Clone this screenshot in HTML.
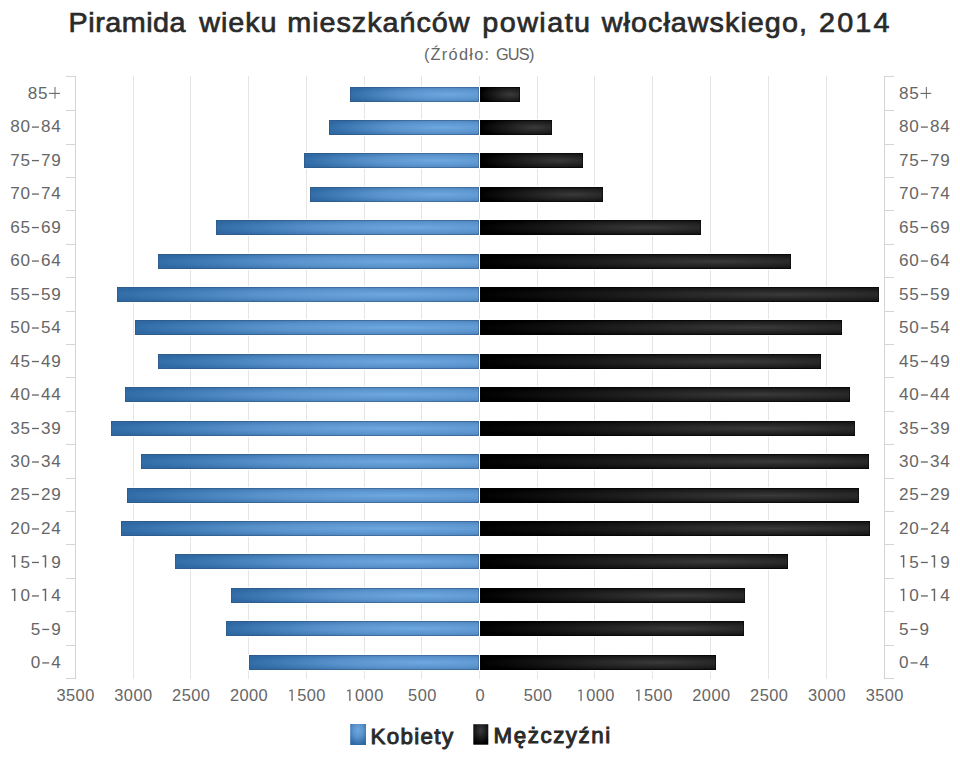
<!DOCTYPE html><html><head><meta charset="utf-8"><style>html,body{margin:0;padding:0;background:#fff;width:960px;height:768px;overflow:hidden}svg{display:block}text{font-family:"Liberation Sans",sans-serif}</style></head><body>
<svg width="960" height="768" viewBox="0 0 960 768">
<defs>
<radialGradient id="gb" cx="0.76" cy="0.5" r="1" gradientTransform="translate(0.76 0.5) scale(0.8 0.75) translate(-0.76 -0.5)"><stop offset="0" stop-color="#6ea8e1"/><stop offset="0.47" stop-color="#5a93cc"/><stop offset="0.91" stop-color="#3570aa"/><stop offset="1" stop-color="#2e69a3"/></radialGradient>
<radialGradient id="gk" cx="0.76" cy="0.5" r="1" gradientTransform="translate(0.76 0.5) scale(0.77 0.75) translate(-0.76 -0.5)"><stop offset="0" stop-color="#3a3a3a"/><stop offset="1" stop-color="#000"/></radialGradient>
<radialGradient id="lgb" cx="0.5" cy="0.3" r="0.7"><stop offset="0" stop-color="#6ea8e1"/><stop offset="0.47" stop-color="#5a93cc"/><stop offset="0.91" stop-color="#3570aa"/><stop offset="1" stop-color="#2e69a3"/></radialGradient>
<radialGradient id="lgk" cx="0.5" cy="0.3" r="0.7"><stop offset="0" stop-color="#3a3a3a"/><stop offset="1" stop-color="#000"/></radialGradient>
</defs>
<rect x="133" y="76" width="1" height="603" fill="#e5e5e5"/>
<rect x="190" y="76" width="1" height="603" fill="#e5e5e5"/>
<rect x="248" y="76" width="1" height="603" fill="#e5e5e5"/>
<rect x="306" y="76" width="1" height="603" fill="#e5e5e5"/>
<rect x="364" y="76" width="1" height="603" fill="#e5e5e5"/>
<rect x="421" y="76" width="1" height="603" fill="#e5e5e5"/>
<rect x="479" y="76" width="1" height="603" fill="#e5e5e5"/>
<rect x="537" y="76" width="1" height="603" fill="#e5e5e5"/>
<rect x="594" y="76" width="1" height="603" fill="#e5e5e5"/>
<rect x="652" y="76" width="1" height="603" fill="#e5e5e5"/>
<rect x="710" y="76" width="1" height="603" fill="#e5e5e5"/>
<rect x="768" y="76" width="1" height="603" fill="#e5e5e5"/>
<rect x="826" y="76" width="1" height="603" fill="#e5e5e5"/>
<rect x="75" y="76" width="1" height="603" fill="#d4d4d4"/>
<rect x="66" y="76" width="9" height="1" fill="#d4d4d4"/>
<rect x="66" y="110" width="9" height="1" fill="#d4d4d4"/>
<rect x="66" y="144" width="9" height="1" fill="#d4d4d4"/>
<rect x="66" y="177" width="9" height="1" fill="#d4d4d4"/>
<rect x="66" y="210" width="9" height="1" fill="#d4d4d4"/>
<rect x="66" y="244" width="9" height="1" fill="#d4d4d4"/>
<rect x="66" y="277" width="9" height="1" fill="#d4d4d4"/>
<rect x="66" y="311" width="9" height="1" fill="#d4d4d4"/>
<rect x="66" y="344" width="9" height="1" fill="#d4d4d4"/>
<rect x="66" y="377" width="9" height="1" fill="#d4d4d4"/>
<rect x="66" y="411" width="9" height="1" fill="#d4d4d4"/>
<rect x="66" y="444" width="9" height="1" fill="#d4d4d4"/>
<rect x="66" y="478" width="9" height="1" fill="#d4d4d4"/>
<rect x="66" y="511" width="9" height="1" fill="#d4d4d4"/>
<rect x="66" y="544" width="9" height="1" fill="#d4d4d4"/>
<rect x="66" y="578" width="9" height="1" fill="#d4d4d4"/>
<rect x="66" y="611" width="9" height="1" fill="#d4d4d4"/>
<rect x="66" y="645" width="9" height="1" fill="#d4d4d4"/>
<rect x="66" y="678" width="9" height="1" fill="#d4d4d4"/>
<rect x="884" y="76" width="1" height="603" fill="#d4d4d4"/>
<rect x="885" y="76" width="9" height="1" fill="#d4d4d4"/>
<rect x="885" y="110" width="9" height="1" fill="#d4d4d4"/>
<rect x="885" y="144" width="9" height="1" fill="#d4d4d4"/>
<rect x="885" y="177" width="9" height="1" fill="#d4d4d4"/>
<rect x="885" y="210" width="9" height="1" fill="#d4d4d4"/>
<rect x="885" y="244" width="9" height="1" fill="#d4d4d4"/>
<rect x="885" y="277" width="9" height="1" fill="#d4d4d4"/>
<rect x="885" y="311" width="9" height="1" fill="#d4d4d4"/>
<rect x="885" y="344" width="9" height="1" fill="#d4d4d4"/>
<rect x="885" y="377" width="9" height="1" fill="#d4d4d4"/>
<rect x="885" y="411" width="9" height="1" fill="#d4d4d4"/>
<rect x="885" y="444" width="9" height="1" fill="#d4d4d4"/>
<rect x="885" y="478" width="9" height="1" fill="#d4d4d4"/>
<rect x="885" y="511" width="9" height="1" fill="#d4d4d4"/>
<rect x="885" y="544" width="9" height="1" fill="#d4d4d4"/>
<rect x="885" y="578" width="9" height="1" fill="#d4d4d4"/>
<rect x="885" y="611" width="9" height="1" fill="#d4d4d4"/>
<rect x="885" y="645" width="9" height="1" fill="#d4d4d4"/>
<rect x="885" y="678" width="9" height="1" fill="#d4d4d4"/>
<rect x="349" y="86" width="131" height="17" fill="#fff"/>
<rect x="350" y="87" width="129" height="15" fill="url(#gb)"/>
<rect x="350.5" y="87.5" width="128" height="14" fill="none" stroke="rgba(50,70,100,0.35)" stroke-width="1"/>
<rect x="479" y="86" width="42" height="17" fill="#fff"/>
<rect x="480" y="87" width="40" height="15" fill="url(#gk)"/>
<rect x="480.5" y="87.5" width="39" height="14" fill="none" stroke="rgba(0,0,0,0.5)" stroke-width="1"/>
<rect x="328" y="119" width="152" height="17" fill="#fff"/>
<rect x="329" y="120" width="150" height="15" fill="url(#gb)"/>
<rect x="329.5" y="120.5" width="149" height="14" fill="none" stroke="rgba(50,70,100,0.35)" stroke-width="1"/>
<rect x="479" y="119" width="74" height="17" fill="#fff"/>
<rect x="480" y="120" width="72" height="15" fill="url(#gk)"/>
<rect x="480.5" y="120.5" width="71" height="14" fill="none" stroke="rgba(0,0,0,0.5)" stroke-width="1"/>
<rect x="303" y="152" width="177" height="17" fill="#fff"/>
<rect x="304" y="153" width="175" height="15" fill="url(#gb)"/>
<rect x="304.5" y="153.5" width="174" height="14" fill="none" stroke="rgba(50,70,100,0.35)" stroke-width="1"/>
<rect x="479" y="152" width="105" height="17" fill="#fff"/>
<rect x="480" y="153" width="103" height="15" fill="url(#gk)"/>
<rect x="480.5" y="153.5" width="102" height="14" fill="none" stroke="rgba(0,0,0,0.5)" stroke-width="1"/>
<rect x="309" y="186" width="171" height="17" fill="#fff"/>
<rect x="310" y="187" width="169" height="15" fill="url(#gb)"/>
<rect x="310.5" y="187.5" width="168" height="14" fill="none" stroke="rgba(50,70,100,0.35)" stroke-width="1"/>
<rect x="479" y="186" width="125" height="17" fill="#fff"/>
<rect x="480" y="187" width="123" height="15" fill="url(#gk)"/>
<rect x="480.5" y="187.5" width="122" height="14" fill="none" stroke="rgba(0,0,0,0.5)" stroke-width="1"/>
<rect x="215" y="219" width="265" height="17" fill="#fff"/>
<rect x="216" y="220" width="263" height="15" fill="url(#gb)"/>
<rect x="216.5" y="220.5" width="262" height="14" fill="none" stroke="rgba(50,70,100,0.35)" stroke-width="1"/>
<rect x="479" y="219" width="223" height="17" fill="#fff"/>
<rect x="480" y="220" width="221" height="15" fill="url(#gk)"/>
<rect x="480.5" y="220.5" width="220" height="14" fill="none" stroke="rgba(0,0,0,0.5)" stroke-width="1"/>
<rect x="157" y="253" width="323" height="17" fill="#fff"/>
<rect x="158" y="254" width="321" height="15" fill="url(#gb)"/>
<rect x="158.5" y="254.5" width="320" height="14" fill="none" stroke="rgba(50,70,100,0.35)" stroke-width="1"/>
<rect x="479" y="253" width="313" height="17" fill="#fff"/>
<rect x="480" y="254" width="311" height="15" fill="url(#gk)"/>
<rect x="480.5" y="254.5" width="310" height="14" fill="none" stroke="rgba(0,0,0,0.5)" stroke-width="1"/>
<rect x="116" y="286" width="364" height="17" fill="#fff"/>
<rect x="117" y="287" width="362" height="15" fill="url(#gb)"/>
<rect x="117.5" y="287.5" width="361" height="14" fill="none" stroke="rgba(50,70,100,0.35)" stroke-width="1"/>
<rect x="479" y="286" width="401" height="17" fill="#fff"/>
<rect x="480" y="287" width="399" height="15" fill="url(#gk)"/>
<rect x="480.5" y="287.5" width="398" height="14" fill="none" stroke="rgba(0,0,0,0.5)" stroke-width="1"/>
<rect x="134" y="319" width="346" height="17" fill="#fff"/>
<rect x="135" y="320" width="344" height="15" fill="url(#gb)"/>
<rect x="135.5" y="320.5" width="343" height="14" fill="none" stroke="rgba(50,70,100,0.35)" stroke-width="1"/>
<rect x="479" y="319" width="364" height="17" fill="#fff"/>
<rect x="480" y="320" width="362" height="15" fill="url(#gk)"/>
<rect x="480.5" y="320.5" width="361" height="14" fill="none" stroke="rgba(0,0,0,0.5)" stroke-width="1"/>
<rect x="157" y="353" width="323" height="17" fill="#fff"/>
<rect x="158" y="354" width="321" height="15" fill="url(#gb)"/>
<rect x="158.5" y="354.5" width="320" height="14" fill="none" stroke="rgba(50,70,100,0.35)" stroke-width="1"/>
<rect x="479" y="353" width="343" height="17" fill="#fff"/>
<rect x="480" y="354" width="341" height="15" fill="url(#gk)"/>
<rect x="480.5" y="354.5" width="340" height="14" fill="none" stroke="rgba(0,0,0,0.5)" stroke-width="1"/>
<rect x="124" y="386" width="356" height="17" fill="#fff"/>
<rect x="125" y="387" width="354" height="15" fill="url(#gb)"/>
<rect x="125.5" y="387.5" width="353" height="14" fill="none" stroke="rgba(50,70,100,0.35)" stroke-width="1"/>
<rect x="479" y="386" width="372" height="17" fill="#fff"/>
<rect x="480" y="387" width="370" height="15" fill="url(#gk)"/>
<rect x="480.5" y="387.5" width="369" height="14" fill="none" stroke="rgba(0,0,0,0.5)" stroke-width="1"/>
<rect x="110" y="420" width="370" height="17" fill="#fff"/>
<rect x="111" y="421" width="368" height="15" fill="url(#gb)"/>
<rect x="111.5" y="421.5" width="367" height="14" fill="none" stroke="rgba(50,70,100,0.35)" stroke-width="1"/>
<rect x="479" y="420" width="377" height="17" fill="#fff"/>
<rect x="480" y="421" width="375" height="15" fill="url(#gk)"/>
<rect x="480.5" y="421.5" width="374" height="14" fill="none" stroke="rgba(0,0,0,0.5)" stroke-width="1"/>
<rect x="140" y="453" width="340" height="17" fill="#fff"/>
<rect x="141" y="454" width="338" height="15" fill="url(#gb)"/>
<rect x="141.5" y="454.5" width="337" height="14" fill="none" stroke="rgba(50,70,100,0.35)" stroke-width="1"/>
<rect x="479" y="453" width="391" height="17" fill="#fff"/>
<rect x="480" y="454" width="389" height="15" fill="url(#gk)"/>
<rect x="480.5" y="454.5" width="388" height="14" fill="none" stroke="rgba(0,0,0,0.5)" stroke-width="1"/>
<rect x="126" y="487" width="354" height="17" fill="#fff"/>
<rect x="127" y="488" width="352" height="15" fill="url(#gb)"/>
<rect x="127.5" y="488.5" width="351" height="14" fill="none" stroke="rgba(50,70,100,0.35)" stroke-width="1"/>
<rect x="479" y="487" width="381" height="17" fill="#fff"/>
<rect x="480" y="488" width="379" height="15" fill="url(#gk)"/>
<rect x="480.5" y="488.5" width="378" height="14" fill="none" stroke="rgba(0,0,0,0.5)" stroke-width="1"/>
<rect x="120" y="520" width="360" height="17" fill="#fff"/>
<rect x="121" y="521" width="358" height="15" fill="url(#gb)"/>
<rect x="121.5" y="521.5" width="357" height="14" fill="none" stroke="rgba(50,70,100,0.35)" stroke-width="1"/>
<rect x="479" y="520" width="392" height="17" fill="#fff"/>
<rect x="480" y="521" width="390" height="15" fill="url(#gk)"/>
<rect x="480.5" y="521.5" width="389" height="14" fill="none" stroke="rgba(0,0,0,0.5)" stroke-width="1"/>
<rect x="174" y="553" width="306" height="17" fill="#fff"/>
<rect x="175" y="554" width="304" height="15" fill="url(#gb)"/>
<rect x="175.5" y="554.5" width="303" height="14" fill="none" stroke="rgba(50,70,100,0.35)" stroke-width="1"/>
<rect x="479" y="553" width="310" height="17" fill="#fff"/>
<rect x="480" y="554" width="308" height="15" fill="url(#gk)"/>
<rect x="480.5" y="554.5" width="307" height="14" fill="none" stroke="rgba(0,0,0,0.5)" stroke-width="1"/>
<rect x="230" y="587" width="250" height="17" fill="#fff"/>
<rect x="231" y="588" width="248" height="15" fill="url(#gb)"/>
<rect x="231.5" y="588.5" width="247" height="14" fill="none" stroke="rgba(50,70,100,0.35)" stroke-width="1"/>
<rect x="479" y="587" width="267" height="17" fill="#fff"/>
<rect x="480" y="588" width="265" height="15" fill="url(#gk)"/>
<rect x="480.5" y="588.5" width="264" height="14" fill="none" stroke="rgba(0,0,0,0.5)" stroke-width="1"/>
<rect x="225" y="620" width="255" height="17" fill="#fff"/>
<rect x="226" y="621" width="253" height="15" fill="url(#gb)"/>
<rect x="226.5" y="621.5" width="252" height="14" fill="none" stroke="rgba(50,70,100,0.35)" stroke-width="1"/>
<rect x="479" y="620" width="266" height="17" fill="#fff"/>
<rect x="480" y="621" width="264" height="15" fill="url(#gk)"/>
<rect x="480.5" y="621.5" width="263" height="14" fill="none" stroke="rgba(0,0,0,0.5)" stroke-width="1"/>
<rect x="248" y="654" width="232" height="17" fill="#fff"/>
<rect x="249" y="655" width="230" height="15" fill="url(#gb)"/>
<rect x="249.5" y="655.5" width="229" height="14" fill="none" stroke="rgba(50,70,100,0.35)" stroke-width="1"/>
<rect x="479" y="654" width="238" height="17" fill="#fff"/>
<rect x="480" y="655" width="236" height="15" fill="url(#gk)"/>
<rect x="480.5" y="655.5" width="235" height="14" fill="none" stroke="rgba(0,0,0,0.5)" stroke-width="1"/>
<text transform="translate(68.58 32.20) scale(1.0200 1)" font-size="28.2" font-weight="normal" fill="#2a2a2a" letter-spacing="0.500" stroke="#2a2a2a" stroke-width="0.7">Piramida</text>
<text transform="translate(199.23 32.20) scale(1.0200 1)" font-size="28.2" font-weight="normal" fill="#2a2a2a" letter-spacing="0.946" stroke="#2a2a2a" stroke-width="0.7">wieku</text>
<text transform="translate(287.31 32.20) scale(1.0200 1)" font-size="28.2" font-weight="normal" fill="#2a2a2a" letter-spacing="0.944" stroke="#2a2a2a" stroke-width="0.7">mieszkańców</text>
<text transform="translate(482.31 32.20) scale(1.0200 1)" font-size="28.2" font-weight="normal" fill="#2a2a2a" letter-spacing="1.412" stroke="#2a2a2a" stroke-width="0.7">powiatu</text>
<text transform="translate(601.73 32.20) scale(1.0200 1)" font-size="28.2" font-weight="normal" fill="#2a2a2a" letter-spacing="1.013" stroke="#2a2a2a" stroke-width="0.7">włocławskiego,</text>
<text transform="translate(819.04 32.20) scale(1.0200 1)" font-size="28.2" font-weight="normal" fill="#2a2a2a" letter-spacing="2.101" stroke="#2a2a2a" stroke-width="0.7">2014</text>
<text transform="translate(423.91 59.80) scale(1.0200 1)" font-size="16" font-weight="normal" fill="#666" letter-spacing="1.249">(Źródło:</text>
<text transform="translate(495.88 59.80) scale(1.0200 1)" font-size="16" font-weight="normal" fill="#666" letter-spacing="-0.750">GUS)</text>
<text transform="translate(370.51 743.60) scale(1.0400 1)" font-size="21.5" font-weight="normal" fill="#2a2a2a" letter-spacing="1.284" stroke="#2a2a2a" stroke-width="0.95">Kobiety</text>
<text transform="translate(493.51 743.40) scale(1.0400 1)" font-size="21.5" font-weight="normal" fill="#2a2a2a" letter-spacing="1.498" stroke="#2a2a2a" stroke-width="0.95">Mężczyźni</text>
<text transform="translate(32.50 98.70) scale(0.99 1)" text-anchor="middle" font-size="17.3" fill="#666">8</text>
<text transform="translate(42.77 98.70) scale(0.99 1)" text-anchor="middle" font-size="17.3" fill="#666">5</text>
<text transform="translate(903.84 98.70) scale(0.99 1)" text-anchor="middle" font-size="17.3" fill="#666">8</text>
<text transform="translate(914.11 98.70) scale(0.99 1)" text-anchor="middle" font-size="17.3" fill="#666">5</text>
<text transform="translate(14.89 132.19) scale(0.99 1)" text-anchor="middle" font-size="17.3" fill="#666">8</text>
<text transform="translate(25.16 132.19) scale(0.99 1)" text-anchor="middle" font-size="17.3" fill="#666">0</text>
<text transform="translate(45.70 132.19) scale(0.99 1)" text-anchor="middle" font-size="17.3" fill="#666">8</text>
<text transform="translate(55.96 132.19) scale(0.99 1)" text-anchor="middle" font-size="17.3" fill="#666">4</text>
<text transform="translate(903.84 132.19) scale(0.99 1)" text-anchor="middle" font-size="17.3" fill="#666">8</text>
<text transform="translate(914.11 132.19) scale(0.99 1)" text-anchor="middle" font-size="17.3" fill="#666">0</text>
<text transform="translate(934.64 132.19) scale(0.99 1)" text-anchor="middle" font-size="17.3" fill="#666">8</text>
<text transform="translate(944.91 132.19) scale(0.99 1)" text-anchor="middle" font-size="17.3" fill="#666">4</text>
<text transform="translate(14.89 165.68) scale(0.99 1)" text-anchor="middle" font-size="17.3" fill="#666">7</text>
<text transform="translate(25.16 165.68) scale(0.99 1)" text-anchor="middle" font-size="17.3" fill="#666">5</text>
<text transform="translate(45.70 165.68) scale(0.99 1)" text-anchor="middle" font-size="17.3" fill="#666">7</text>
<text transform="translate(55.96 165.68) scale(0.99 1)" text-anchor="middle" font-size="17.3" fill="#666">9</text>
<text transform="translate(903.84 165.68) scale(0.99 1)" text-anchor="middle" font-size="17.3" fill="#666">7</text>
<text transform="translate(914.11 165.68) scale(0.99 1)" text-anchor="middle" font-size="17.3" fill="#666">5</text>
<text transform="translate(934.64 165.68) scale(0.99 1)" text-anchor="middle" font-size="17.3" fill="#666">7</text>
<text transform="translate(944.91 165.68) scale(0.99 1)" text-anchor="middle" font-size="17.3" fill="#666">9</text>
<text transform="translate(14.89 199.17) scale(0.99 1)" text-anchor="middle" font-size="17.3" fill="#666">7</text>
<text transform="translate(25.16 199.17) scale(0.99 1)" text-anchor="middle" font-size="17.3" fill="#666">0</text>
<text transform="translate(45.70 199.17) scale(0.99 1)" text-anchor="middle" font-size="17.3" fill="#666">7</text>
<text transform="translate(55.96 199.17) scale(0.99 1)" text-anchor="middle" font-size="17.3" fill="#666">4</text>
<text transform="translate(903.84 199.17) scale(0.99 1)" text-anchor="middle" font-size="17.3" fill="#666">7</text>
<text transform="translate(914.11 199.17) scale(0.99 1)" text-anchor="middle" font-size="17.3" fill="#666">0</text>
<text transform="translate(934.64 199.17) scale(0.99 1)" text-anchor="middle" font-size="17.3" fill="#666">7</text>
<text transform="translate(944.91 199.17) scale(0.99 1)" text-anchor="middle" font-size="17.3" fill="#666">4</text>
<text transform="translate(14.89 232.66) scale(0.99 1)" text-anchor="middle" font-size="17.3" fill="#666">6</text>
<text transform="translate(25.16 232.66) scale(0.99 1)" text-anchor="middle" font-size="17.3" fill="#666">5</text>
<text transform="translate(45.70 232.66) scale(0.99 1)" text-anchor="middle" font-size="17.3" fill="#666">6</text>
<text transform="translate(55.96 232.66) scale(0.99 1)" text-anchor="middle" font-size="17.3" fill="#666">9</text>
<text transform="translate(903.84 232.66) scale(0.99 1)" text-anchor="middle" font-size="17.3" fill="#666">6</text>
<text transform="translate(914.11 232.66) scale(0.99 1)" text-anchor="middle" font-size="17.3" fill="#666">5</text>
<text transform="translate(934.64 232.66) scale(0.99 1)" text-anchor="middle" font-size="17.3" fill="#666">6</text>
<text transform="translate(944.91 232.66) scale(0.99 1)" text-anchor="middle" font-size="17.3" fill="#666">9</text>
<text transform="translate(14.89 266.15) scale(0.99 1)" text-anchor="middle" font-size="17.3" fill="#666">6</text>
<text transform="translate(25.16 266.15) scale(0.99 1)" text-anchor="middle" font-size="17.3" fill="#666">0</text>
<text transform="translate(45.70 266.15) scale(0.99 1)" text-anchor="middle" font-size="17.3" fill="#666">6</text>
<text transform="translate(55.96 266.15) scale(0.99 1)" text-anchor="middle" font-size="17.3" fill="#666">4</text>
<text transform="translate(903.84 266.15) scale(0.99 1)" text-anchor="middle" font-size="17.3" fill="#666">6</text>
<text transform="translate(914.11 266.15) scale(0.99 1)" text-anchor="middle" font-size="17.3" fill="#666">0</text>
<text transform="translate(934.64 266.15) scale(0.99 1)" text-anchor="middle" font-size="17.3" fill="#666">6</text>
<text transform="translate(944.91 266.15) scale(0.99 1)" text-anchor="middle" font-size="17.3" fill="#666">4</text>
<text transform="translate(14.89 299.64) scale(0.99 1)" text-anchor="middle" font-size="17.3" fill="#666">5</text>
<text transform="translate(25.16 299.64) scale(0.99 1)" text-anchor="middle" font-size="17.3" fill="#666">5</text>
<text transform="translate(45.70 299.64) scale(0.99 1)" text-anchor="middle" font-size="17.3" fill="#666">5</text>
<text transform="translate(55.96 299.64) scale(0.99 1)" text-anchor="middle" font-size="17.3" fill="#666">9</text>
<text transform="translate(903.84 299.64) scale(0.99 1)" text-anchor="middle" font-size="17.3" fill="#666">5</text>
<text transform="translate(914.11 299.64) scale(0.99 1)" text-anchor="middle" font-size="17.3" fill="#666">5</text>
<text transform="translate(934.64 299.64) scale(0.99 1)" text-anchor="middle" font-size="17.3" fill="#666">5</text>
<text transform="translate(944.91 299.64) scale(0.99 1)" text-anchor="middle" font-size="17.3" fill="#666">9</text>
<text transform="translate(14.89 333.13) scale(0.99 1)" text-anchor="middle" font-size="17.3" fill="#666">5</text>
<text transform="translate(25.16 333.13) scale(0.99 1)" text-anchor="middle" font-size="17.3" fill="#666">0</text>
<text transform="translate(45.70 333.13) scale(0.99 1)" text-anchor="middle" font-size="17.3" fill="#666">5</text>
<text transform="translate(55.96 333.13) scale(0.99 1)" text-anchor="middle" font-size="17.3" fill="#666">4</text>
<text transform="translate(903.84 333.13) scale(0.99 1)" text-anchor="middle" font-size="17.3" fill="#666">5</text>
<text transform="translate(914.11 333.13) scale(0.99 1)" text-anchor="middle" font-size="17.3" fill="#666">0</text>
<text transform="translate(934.64 333.13) scale(0.99 1)" text-anchor="middle" font-size="17.3" fill="#666">5</text>
<text transform="translate(944.91 333.13) scale(0.99 1)" text-anchor="middle" font-size="17.3" fill="#666">4</text>
<text transform="translate(14.89 366.62) scale(0.99 1)" text-anchor="middle" font-size="17.3" fill="#666">4</text>
<text transform="translate(25.16 366.62) scale(0.99 1)" text-anchor="middle" font-size="17.3" fill="#666">5</text>
<text transform="translate(45.70 366.62) scale(0.99 1)" text-anchor="middle" font-size="17.3" fill="#666">4</text>
<text transform="translate(55.96 366.62) scale(0.99 1)" text-anchor="middle" font-size="17.3" fill="#666">9</text>
<text transform="translate(903.84 366.62) scale(0.99 1)" text-anchor="middle" font-size="17.3" fill="#666">4</text>
<text transform="translate(914.11 366.62) scale(0.99 1)" text-anchor="middle" font-size="17.3" fill="#666">5</text>
<text transform="translate(934.64 366.62) scale(0.99 1)" text-anchor="middle" font-size="17.3" fill="#666">4</text>
<text transform="translate(944.91 366.62) scale(0.99 1)" text-anchor="middle" font-size="17.3" fill="#666">9</text>
<text transform="translate(14.89 400.11) scale(0.99 1)" text-anchor="middle" font-size="17.3" fill="#666">4</text>
<text transform="translate(25.16 400.11) scale(0.99 1)" text-anchor="middle" font-size="17.3" fill="#666">0</text>
<text transform="translate(45.70 400.11) scale(0.99 1)" text-anchor="middle" font-size="17.3" fill="#666">4</text>
<text transform="translate(55.96 400.11) scale(0.99 1)" text-anchor="middle" font-size="17.3" fill="#666">4</text>
<text transform="translate(903.84 400.11) scale(0.99 1)" text-anchor="middle" font-size="17.3" fill="#666">4</text>
<text transform="translate(914.11 400.11) scale(0.99 1)" text-anchor="middle" font-size="17.3" fill="#666">0</text>
<text transform="translate(934.64 400.11) scale(0.99 1)" text-anchor="middle" font-size="17.3" fill="#666">4</text>
<text transform="translate(944.91 400.11) scale(0.99 1)" text-anchor="middle" font-size="17.3" fill="#666">4</text>
<text transform="translate(14.89 433.60) scale(0.99 1)" text-anchor="middle" font-size="17.3" fill="#666">3</text>
<text transform="translate(25.16 433.60) scale(0.99 1)" text-anchor="middle" font-size="17.3" fill="#666">5</text>
<text transform="translate(45.70 433.60) scale(0.99 1)" text-anchor="middle" font-size="17.3" fill="#666">3</text>
<text transform="translate(55.96 433.60) scale(0.99 1)" text-anchor="middle" font-size="17.3" fill="#666">9</text>
<text transform="translate(903.84 433.60) scale(0.99 1)" text-anchor="middle" font-size="17.3" fill="#666">3</text>
<text transform="translate(914.11 433.60) scale(0.99 1)" text-anchor="middle" font-size="17.3" fill="#666">5</text>
<text transform="translate(934.64 433.60) scale(0.99 1)" text-anchor="middle" font-size="17.3" fill="#666">3</text>
<text transform="translate(944.91 433.60) scale(0.99 1)" text-anchor="middle" font-size="17.3" fill="#666">9</text>
<text transform="translate(14.89 467.09) scale(0.99 1)" text-anchor="middle" font-size="17.3" fill="#666">3</text>
<text transform="translate(25.16 467.09) scale(0.99 1)" text-anchor="middle" font-size="17.3" fill="#666">0</text>
<text transform="translate(45.70 467.09) scale(0.99 1)" text-anchor="middle" font-size="17.3" fill="#666">3</text>
<text transform="translate(55.96 467.09) scale(0.99 1)" text-anchor="middle" font-size="17.3" fill="#666">4</text>
<text transform="translate(903.84 467.09) scale(0.99 1)" text-anchor="middle" font-size="17.3" fill="#666">3</text>
<text transform="translate(914.11 467.09) scale(0.99 1)" text-anchor="middle" font-size="17.3" fill="#666">0</text>
<text transform="translate(934.64 467.09) scale(0.99 1)" text-anchor="middle" font-size="17.3" fill="#666">3</text>
<text transform="translate(944.91 467.09) scale(0.99 1)" text-anchor="middle" font-size="17.3" fill="#666">4</text>
<text transform="translate(14.89 499.58) scale(0.99 1)" text-anchor="middle" font-size="17.3" fill="#666">2</text>
<text transform="translate(25.16 499.58) scale(0.99 1)" text-anchor="middle" font-size="17.3" fill="#666">5</text>
<text transform="translate(45.70 499.58) scale(0.99 1)" text-anchor="middle" font-size="17.3" fill="#666">2</text>
<text transform="translate(55.96 499.58) scale(0.99 1)" text-anchor="middle" font-size="17.3" fill="#666">9</text>
<text transform="translate(903.84 499.58) scale(0.99 1)" text-anchor="middle" font-size="17.3" fill="#666">2</text>
<text transform="translate(914.11 499.58) scale(0.99 1)" text-anchor="middle" font-size="17.3" fill="#666">5</text>
<text transform="translate(934.64 499.58) scale(0.99 1)" text-anchor="middle" font-size="17.3" fill="#666">2</text>
<text transform="translate(944.91 499.58) scale(0.99 1)" text-anchor="middle" font-size="17.3" fill="#666">9</text>
<text transform="translate(14.89 534.07) scale(0.99 1)" text-anchor="middle" font-size="17.3" fill="#666">2</text>
<text transform="translate(25.16 534.07) scale(0.99 1)" text-anchor="middle" font-size="17.3" fill="#666">0</text>
<text transform="translate(45.70 534.07) scale(0.99 1)" text-anchor="middle" font-size="17.3" fill="#666">2</text>
<text transform="translate(55.96 534.07) scale(0.99 1)" text-anchor="middle" font-size="17.3" fill="#666">4</text>
<text transform="translate(903.84 534.07) scale(0.99 1)" text-anchor="middle" font-size="17.3" fill="#666">2</text>
<text transform="translate(914.11 534.07) scale(0.99 1)" text-anchor="middle" font-size="17.3" fill="#666">0</text>
<text transform="translate(934.64 534.07) scale(0.99 1)" text-anchor="middle" font-size="17.3" fill="#666">2</text>
<text transform="translate(944.91 534.07) scale(0.99 1)" text-anchor="middle" font-size="17.3" fill="#666">4</text>
<rect x="13.94" y="555.17" width="1.47" height="12.39" fill="#666"/>
<polygon points="14.24,555.17 11.69,555.87 11.69,557.35 14.24,556.73" fill="#666"/>
<text transform="translate(25.16 567.56) scale(0.99 1)" text-anchor="middle" font-size="17.3" fill="#666">5</text>
<rect x="44.75" y="555.17" width="1.47" height="12.39" fill="#666"/>
<polygon points="45.05,555.17 42.50,555.87 42.50,557.35 45.05,556.73" fill="#666"/>
<text transform="translate(55.96 567.56) scale(0.99 1)" text-anchor="middle" font-size="17.3" fill="#666">9</text>
<rect x="902.89" y="555.17" width="1.47" height="12.39" fill="#666"/>
<polygon points="903.19,555.17 900.64,555.87 900.64,557.35 903.19,556.73" fill="#666"/>
<text transform="translate(914.11 567.56) scale(0.99 1)" text-anchor="middle" font-size="17.3" fill="#666">5</text>
<rect x="933.70" y="555.17" width="1.47" height="12.39" fill="#666"/>
<polygon points="934.00,555.17 931.45,555.87 931.45,557.35 934.00,556.73" fill="#666"/>
<text transform="translate(944.91 567.56) scale(0.99 1)" text-anchor="middle" font-size="17.3" fill="#666">9</text>
<rect x="13.94" y="588.66" width="1.47" height="12.39" fill="#666"/>
<polygon points="14.24,588.66 11.69,589.36 11.69,590.84 14.24,590.22" fill="#666"/>
<text transform="translate(25.16 601.05) scale(0.99 1)" text-anchor="middle" font-size="17.3" fill="#666">0</text>
<rect x="44.75" y="588.66" width="1.47" height="12.39" fill="#666"/>
<polygon points="45.05,588.66 42.50,589.36 42.50,590.84 45.05,590.22" fill="#666"/>
<text transform="translate(55.96 601.05) scale(0.99 1)" text-anchor="middle" font-size="17.3" fill="#666">4</text>
<rect x="902.89" y="588.66" width="1.47" height="12.39" fill="#666"/>
<polygon points="903.19,588.66 900.64,589.36 900.64,590.84 903.19,590.22" fill="#666"/>
<text transform="translate(914.11 601.05) scale(0.99 1)" text-anchor="middle" font-size="17.3" fill="#666">0</text>
<rect x="933.70" y="588.66" width="1.47" height="12.39" fill="#666"/>
<polygon points="934.00,588.66 931.45,589.36 931.45,590.84 934.00,590.22" fill="#666"/>
<text transform="translate(944.91 601.05) scale(0.99 1)" text-anchor="middle" font-size="17.3" fill="#666">4</text>
<text transform="translate(35.43 634.54) scale(0.99 1)" text-anchor="middle" font-size="17.3" fill="#666">5</text>
<text transform="translate(55.96 634.54) scale(0.99 1)" text-anchor="middle" font-size="17.3" fill="#666">9</text>
<text transform="translate(903.84 634.54) scale(0.99 1)" text-anchor="middle" font-size="17.3" fill="#666">5</text>
<text transform="translate(924.38 634.54) scale(0.99 1)" text-anchor="middle" font-size="17.3" fill="#666">9</text>
<text transform="translate(35.43 668.03) scale(0.99 1)" text-anchor="middle" font-size="17.3" fill="#666">0</text>
<text transform="translate(55.96 668.03) scale(0.99 1)" text-anchor="middle" font-size="17.3" fill="#666">4</text>
<text transform="translate(903.84 668.03) scale(0.99 1)" text-anchor="middle" font-size="17.3" fill="#666">0</text>
<text transform="translate(924.38 668.03) scale(0.99 1)" text-anchor="middle" font-size="17.3" fill="#666">4</text>
<text transform="translate(61.06 700.90) scale(1.04 1)" text-anchor="middle" font-size="15.8" fill="#666">3</text>
<text transform="translate(70.62 700.90) scale(1.04 1)" text-anchor="middle" font-size="15.8" fill="#666">5</text>
<text transform="translate(80.18 700.90) scale(1.04 1)" text-anchor="middle" font-size="15.8" fill="#666">0</text>
<text transform="translate(89.74 700.90) scale(1.04 1)" text-anchor="middle" font-size="15.8" fill="#666">0</text>
<text transform="translate(118.86 700.90) scale(1.04 1)" text-anchor="middle" font-size="15.8" fill="#666">3</text>
<text transform="translate(128.42 700.90) scale(1.04 1)" text-anchor="middle" font-size="15.8" fill="#666">0</text>
<text transform="translate(137.98 700.90) scale(1.04 1)" text-anchor="middle" font-size="15.8" fill="#666">0</text>
<text transform="translate(147.54 700.90) scale(1.04 1)" text-anchor="middle" font-size="15.8" fill="#666">0</text>
<text transform="translate(176.66 700.90) scale(1.04 1)" text-anchor="middle" font-size="15.8" fill="#666">2</text>
<text transform="translate(186.22 700.90) scale(1.04 1)" text-anchor="middle" font-size="15.8" fill="#666">5</text>
<text transform="translate(195.78 700.90) scale(1.04 1)" text-anchor="middle" font-size="15.8" fill="#666">0</text>
<text transform="translate(205.34 700.90) scale(1.04 1)" text-anchor="middle" font-size="15.8" fill="#666">0</text>
<text transform="translate(234.46 700.90) scale(1.04 1)" text-anchor="middle" font-size="15.8" fill="#666">2</text>
<text transform="translate(244.02 700.90) scale(1.04 1)" text-anchor="middle" font-size="15.8" fill="#666">0</text>
<text transform="translate(253.58 700.90) scale(1.04 1)" text-anchor="middle" font-size="15.8" fill="#666">0</text>
<text transform="translate(263.14 700.90) scale(1.04 1)" text-anchor="middle" font-size="15.8" fill="#666">0</text>
<rect x="291.40" y="689.59" width="1.34" height="11.31" fill="#666"/>
<polygon points="291.70,689.59 289.34,690.23 289.34,691.58 291.70,691.01" fill="#666"/>
<text transform="translate(301.82 700.90) scale(1.04 1)" text-anchor="middle" font-size="15.8" fill="#666">5</text>
<text transform="translate(311.38 700.90) scale(1.04 1)" text-anchor="middle" font-size="15.8" fill="#666">0</text>
<text transform="translate(320.94 700.90) scale(1.04 1)" text-anchor="middle" font-size="15.8" fill="#666">0</text>
<rect x="349.20" y="689.59" width="1.34" height="11.31" fill="#666"/>
<polygon points="349.50,689.59 347.14,690.23 347.14,691.58 349.50,691.01" fill="#666"/>
<text transform="translate(359.62 700.90) scale(1.04 1)" text-anchor="middle" font-size="15.8" fill="#666">0</text>
<text transform="translate(369.18 700.90) scale(1.04 1)" text-anchor="middle" font-size="15.8" fill="#666">0</text>
<text transform="translate(378.74 700.90) scale(1.04 1)" text-anchor="middle" font-size="15.8" fill="#666">0</text>
<text transform="translate(412.64 700.90) scale(1.04 1)" text-anchor="middle" font-size="15.8" fill="#666">5</text>
<text transform="translate(422.20 700.90) scale(1.04 1)" text-anchor="middle" font-size="15.8" fill="#666">0</text>
<text transform="translate(431.76 700.90) scale(1.04 1)" text-anchor="middle" font-size="15.8" fill="#666">0</text>
<text transform="translate(480.00 700.90) scale(1.04 1)" text-anchor="middle" font-size="15.8" fill="#666">0</text>
<text transform="translate(528.24 700.90) scale(1.04 1)" text-anchor="middle" font-size="15.8" fill="#666">5</text>
<text transform="translate(537.80 700.90) scale(1.04 1)" text-anchor="middle" font-size="15.8" fill="#666">0</text>
<text transform="translate(547.36 700.90) scale(1.04 1)" text-anchor="middle" font-size="15.8" fill="#666">0</text>
<rect x="580.40" y="689.59" width="1.34" height="11.31" fill="#666"/>
<polygon points="580.70,689.59 578.34,690.23 578.34,691.58 580.70,691.01" fill="#666"/>
<text transform="translate(590.82 700.90) scale(1.04 1)" text-anchor="middle" font-size="15.8" fill="#666">0</text>
<text transform="translate(600.38 700.90) scale(1.04 1)" text-anchor="middle" font-size="15.8" fill="#666">0</text>
<text transform="translate(609.94 700.90) scale(1.04 1)" text-anchor="middle" font-size="15.8" fill="#666">0</text>
<rect x="638.20" y="689.59" width="1.34" height="11.31" fill="#666"/>
<polygon points="638.50,689.59 636.14,690.23 636.14,691.58 638.50,691.01" fill="#666"/>
<text transform="translate(648.62 700.90) scale(1.04 1)" text-anchor="middle" font-size="15.8" fill="#666">5</text>
<text transform="translate(658.18 700.90) scale(1.04 1)" text-anchor="middle" font-size="15.8" fill="#666">0</text>
<text transform="translate(667.74 700.90) scale(1.04 1)" text-anchor="middle" font-size="15.8" fill="#666">0</text>
<text transform="translate(696.86 700.90) scale(1.04 1)" text-anchor="middle" font-size="15.8" fill="#666">2</text>
<text transform="translate(706.42 700.90) scale(1.04 1)" text-anchor="middle" font-size="15.8" fill="#666">0</text>
<text transform="translate(715.98 700.90) scale(1.04 1)" text-anchor="middle" font-size="15.8" fill="#666">0</text>
<text transform="translate(725.54 700.90) scale(1.04 1)" text-anchor="middle" font-size="15.8" fill="#666">0</text>
<text transform="translate(754.66 700.90) scale(1.04 1)" text-anchor="middle" font-size="15.8" fill="#666">2</text>
<text transform="translate(764.22 700.90) scale(1.04 1)" text-anchor="middle" font-size="15.8" fill="#666">5</text>
<text transform="translate(773.78 700.90) scale(1.04 1)" text-anchor="middle" font-size="15.8" fill="#666">0</text>
<text transform="translate(783.34 700.90) scale(1.04 1)" text-anchor="middle" font-size="15.8" fill="#666">0</text>
<text transform="translate(812.46 700.90) scale(1.04 1)" text-anchor="middle" font-size="15.8" fill="#666">3</text>
<text transform="translate(822.02 700.90) scale(1.04 1)" text-anchor="middle" font-size="15.8" fill="#666">0</text>
<text transform="translate(831.58 700.90) scale(1.04 1)" text-anchor="middle" font-size="15.8" fill="#666">0</text>
<text transform="translate(841.14 700.90) scale(1.04 1)" text-anchor="middle" font-size="15.8" fill="#666">0</text>
<text transform="translate(870.26 700.90) scale(1.04 1)" text-anchor="middle" font-size="15.8" fill="#666">3</text>
<text transform="translate(879.82 700.90) scale(1.04 1)" text-anchor="middle" font-size="15.8" fill="#666">5</text>
<text transform="translate(889.38 700.90) scale(1.04 1)" text-anchor="middle" font-size="15.8" fill="#666">0</text>
<text transform="translate(898.94 700.90) scale(1.04 1)" text-anchor="middle" font-size="15.8" fill="#666">0</text>
<rect x="49.10" y="92.85" width="10.8" height="1.1" fill="#666"/>
<rect x="54.50" y="87.00" width="1" height="11.7" fill="#666"/>
<rect x="920.44" y="92.85" width="10.8" height="1.1" fill="#666"/>
<rect x="925.84" y="87.00" width="1" height="11.7" fill="#666"/>
<rect x="31.93" y="126.44" width="7.0" height="1.3" fill="#666"/>
<rect x="920.88" y="126.44" width="7.0" height="1.3" fill="#666"/>
<rect x="31.93" y="159.93" width="7.0" height="1.3" fill="#666"/>
<rect x="920.88" y="159.93" width="7.0" height="1.3" fill="#666"/>
<rect x="31.93" y="193.42" width="7.0" height="1.3" fill="#666"/>
<rect x="920.88" y="193.42" width="7.0" height="1.3" fill="#666"/>
<rect x="31.93" y="226.91" width="7.0" height="1.3" fill="#666"/>
<rect x="920.88" y="226.91" width="7.0" height="1.3" fill="#666"/>
<rect x="31.93" y="260.40" width="7.0" height="1.3" fill="#666"/>
<rect x="920.88" y="260.40" width="7.0" height="1.3" fill="#666"/>
<rect x="31.93" y="293.89" width="7.0" height="1.3" fill="#666"/>
<rect x="920.88" y="293.89" width="7.0" height="1.3" fill="#666"/>
<rect x="31.93" y="327.38" width="7.0" height="1.3" fill="#666"/>
<rect x="920.88" y="327.38" width="7.0" height="1.3" fill="#666"/>
<rect x="31.93" y="360.87" width="7.0" height="1.3" fill="#666"/>
<rect x="920.88" y="360.87" width="7.0" height="1.3" fill="#666"/>
<rect x="31.93" y="394.36" width="7.0" height="1.3" fill="#666"/>
<rect x="920.88" y="394.36" width="7.0" height="1.3" fill="#666"/>
<rect x="31.93" y="427.85" width="7.0" height="1.3" fill="#666"/>
<rect x="920.88" y="427.85" width="7.0" height="1.3" fill="#666"/>
<rect x="31.93" y="461.34" width="7.0" height="1.3" fill="#666"/>
<rect x="920.88" y="461.34" width="7.0" height="1.3" fill="#666"/>
<rect x="31.93" y="493.83" width="7.0" height="1.3" fill="#666"/>
<rect x="920.88" y="493.83" width="7.0" height="1.3" fill="#666"/>
<rect x="31.93" y="528.32" width="7.0" height="1.3" fill="#666"/>
<rect x="920.88" y="528.32" width="7.0" height="1.3" fill="#666"/>
<rect x="31.93" y="561.81" width="7.0" height="1.3" fill="#666"/>
<rect x="920.88" y="561.81" width="7.0" height="1.3" fill="#666"/>
<rect x="31.93" y="595.30" width="7.0" height="1.3" fill="#666"/>
<rect x="920.88" y="595.30" width="7.0" height="1.3" fill="#666"/>
<rect x="42.20" y="628.79" width="7.0" height="1.3" fill="#666"/>
<rect x="910.61" y="628.79" width="7.0" height="1.3" fill="#666"/>
<rect x="42.20" y="662.28" width="7.0" height="1.3" fill="#666"/>
<rect x="910.61" y="662.28" width="7.0" height="1.3" fill="#666"/>
<rect x="350.2" y="724" width="15.8" height="21" fill="url(#lgb)"/>
<rect x="473.3" y="724.2" width="15" height="20.5" fill="url(#lgk)"/>
</svg></body></html>
